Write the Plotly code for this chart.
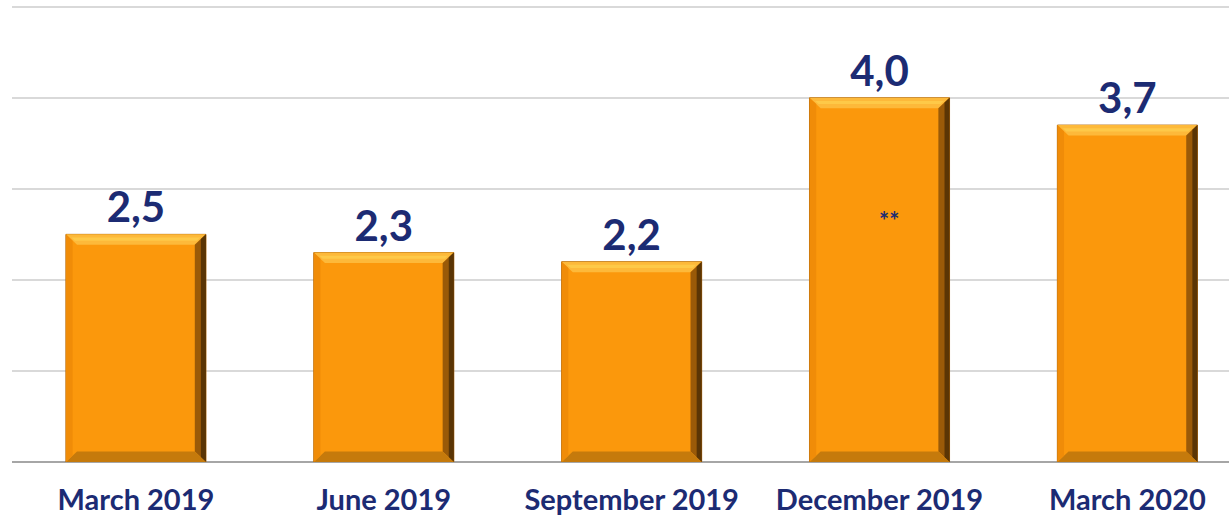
import plotly.graph_objects as go

categories = ["March 2019", "June 2019", "September 2019", "December 2019", "March 2020"]
values = [2.5, 2.3, 2.2, 4.0, 3.7]
note_text = "**"
note_index = 3
note_value = 2.65

BAR_W = 0.565
NAVY = "#1c2b73"
ORANGE = "#fb980c"

xs = list(range(len(categories)))

fig = go.Figure()
fig.add_trace(go.Bar(
    x=xs, y=values, width=BAR_W,
    marker=dict(color=ORANGE, line=dict(color="#b06a10", width=1)),
    texttemplate="%{y:.1f}", textposition="outside", cliponaxis=False,
    textfont=dict(family="Lato", size=42, color=NAVY, weight="bold"),
    hoverinfo="skip",
))

# bevel decoration computed from data
bx = 0.045  # bevel width in x units
by = 0.115  # bevel height in y units
shapes = []
for x, v in zip(xs, values):
    l, r = x - BAR_W / 2, x + BAR_W / 2
    shapes.append(dict(type="path", xref="x", yref="y",
                       path=f"M{l},{v} L{r},{v} L{r-bx},{v-by} L{l+bx},{v-by} Z",
                       fillcolor="#fdb93a", line=dict(width=0), layer="above"))
    shapes.append(dict(type="path", xref="x", yref="y",
                       path=f"M{l+bx*0.5},{v-by*0.3} L{r-bx*0.5},{v-by*0.3} L{r-bx*0.8},{v-by*0.6} L{l+bx*0.8},{v-by*0.6} Z",
                       fillcolor="#fec948", line=dict(width=0), layer="above"))
    shapes.append(dict(type="path", xref="x", yref="y",
                       path=f"M{r},{v} L{r},0 L{r-bx},{by} L{r-bx},{v-by} Z",
                       fillcolor="#9a5a08", line=dict(width=0), layer="above"))
    shapes.append(dict(type="path", xref="x", yref="y",
                       path=f"M{r},{v} L{r},0 L{r-bx*0.45},{by*0.45} L{r-bx*0.45},{v-by*0.45} Z",
                       fillcolor="#5a3505", line=dict(width=0), layer="above"))
    shapes.append(dict(type="path", xref="x", yref="y",
                       path=f"M{l},0 L{r},0 L{r-bx},{by} L{l+bx},{by} Z",
                       fillcolor="#c57a0c", line=dict(width=0), layer="above"))
    shapes.append(dict(type="path", xref="x", yref="y",
                       path=f"M{l},{v} L{l},0 L{l+bx*0.6},{by*0.6} L{l+bx*0.6},{v-by*0.6} Z",
                       fillcolor="#f08c08", line=dict(width=0), layer="above"))

fig.update_layout(
    width=1229, height=517,
    margin=dict(l=12, r=0, t=4, b=55),
    paper_bgcolor="white", plot_bgcolor="white",
    separators=",.",
    showlegend=False,
    shapes=shapes,
    bargap=0.435,
    xaxis=dict(
        range=[-0.5, 4.41], tickvals=xs, ticktext=categories,
        showgrid=False, zeroline=False,
        showline=False,
        ticks="outside", ticklen=12, tickcolor="rgba(0,0,0,0)",
        tickfont=dict(family="Lato", size=29, color=NAVY, weight="bold"),
        automargin=False,
    ),
    yaxis=dict(
        range=[0, 5.03], dtick=1, showticklabels=False,
        showgrid=True, gridcolor="#d9d9d9", gridwidth=2,
        zeroline=True, zerolinecolor="#a6a6a6", zerolinewidth=2,
        automargin=False,
    ),
    annotations=[dict(
        x=xs[note_index] + 0.04, y=note_value, xref="x", yref="y",
        text=note_text, showarrow=False,
        font=dict(family="Lato", size=24, color=NAVY, weight="bold"),
    )],
)

fig.write_html("out.html", config={"displayModeBar": False},
               post_script="document.body.style.margin='0';")
